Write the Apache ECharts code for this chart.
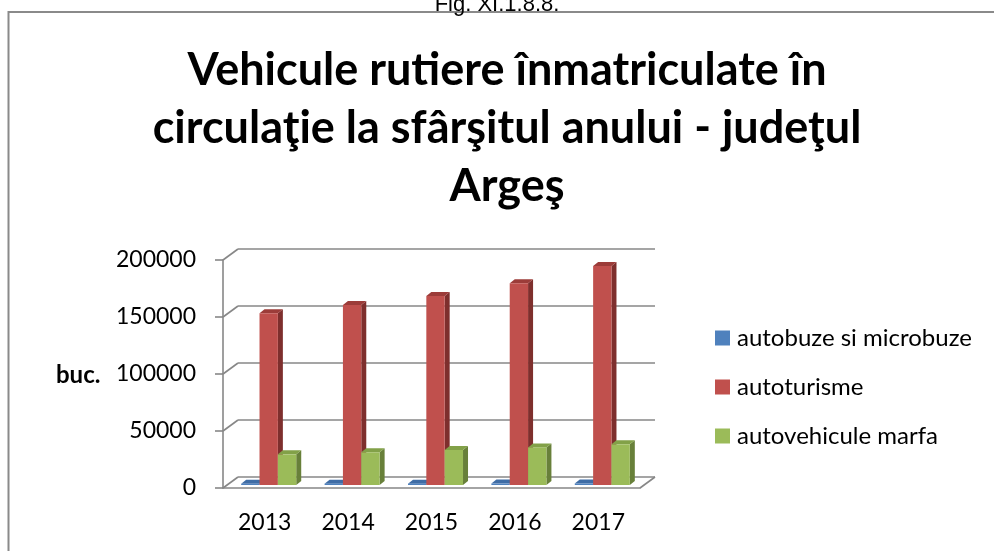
<!DOCTYPE html>
<html>
<head>
<meta charset="utf-8">
<title>Vehicule rutiere - Arges</title>
<script src="https://cdn.jsdelivr.net/npm/echarts@6/dist/echarts.min.js"></script>
<style>
  html, body { margin: 0; padding: 0; background: #fff; }
  #main { width: 994px; height: 551px; }
</style>
</head>
<body>
<div id="main"></div>
<script>
// data
const years = ['2013', '2014', '2015', '2016', '2017'];
const autobuze = [1100, 1150, 1200, 1250, 1300];
const autoturisme = [150600, 157900, 165800, 176900, 192100];
const marfa = [26900, 28700, 30700, 33000, 35700];
const seriesNames = ['autobuze si microbuze', 'autoturisme', 'autovehicule marfa'];
const yTicks = [0, 50000, 100000, 150000, 200000];

// face colours: front, side, top
const palette = [
    ['#4F81BD', '#385D8A', '#3F6DA6'],
    ['#C0504D', '#7E2F2D', '#9C3C39'],
    ['#9BBB59', '#68803A', '#82A148']
];

const gridLine = '#878787';
const depthX = 15, depthY = -11;     // wall depth
const barDX = 5, barDY = -4;         // bar depth
const shiftX = 4, shiftY = -3;       // bar front face behind the front plane

function barRenderer(k) {
    const col = palette[k];
    return function (params, api) {
        const idx = api.value(0);
        const val = api.value(1);
        const band = api.size([1, 0])[0];
        const bw = band * 0.22;
        const base = api.coord([idx, 0]);
        const top = api.coord([idx, val]);
        const x0 = base[0] + (k - 1.5) * bw + shiftX;
        const x1 = x0 + bw;
        const y0 = base[1] + shiftY;
        const y1 = top[1] + shiftY;
        return {
            type: 'group',
            children: [
                {type: 'polygon', shape: {points: [[x1, y0], [x1, y1], [x1 + barDX, y1 + barDY], [x1 + barDX, y0 + barDY]]},
                    style: {fill: col[1]}},
                {type: 'polygon', shape: {points: [[x0, y1], [x1, y1], [x1 + barDX, y1 + barDY], [x0 + barDX, y1 + barDY]]},
                    style: {fill: col[2]}},
                {type: 'rect', shape: {x: x0, y: y1, width: bw, height: y0 - y1},
                    style: {fill: col[0]}}
            ]
        };
    };
}

function frameRenderer(params, api) {
    const v = api.value(1);
    const cs = params.coordSys;
    const y = api.coord([0, v])[1];
    const children = [{
        type: 'line',
        shape: {x1: cs.x, y1: y, x2: cs.x + depthX, y2: y + depthY},
        style: {stroke: gridLine, lineWidth: 1.6}
    }];
    if (v === 0) {
        children.push({
            type: 'line',
            shape: {x1: cs.x + cs.width, y1: y, x2: cs.x + cs.width + depthX, y2: y + depthY},
            style: {stroke: gridLine, lineWidth: 1.6}
        });
    }
    return {type: 'group', children: children};
}

const allValues = [autobuze, autoturisme, marfa];

let option = {
    animation: false,
    backgroundColor: '#fff',
    textStyle: {fontFamily: 'Lato'},
    title: {
        text: 'Vehicule rutiere înmatriculate în\ncirculaţie la sfârşitul anului - judeţul\nArgeş',
        left: 502,
        textAlign: 'center',
        top: 36,
        textStyle: {fontFamily: 'Lato', fontWeight: 'bold', fontSize: 45, lineHeight: 58, color: '#000'}
    },
    legend: {
        orient: 'vertical',
        left: 715,
        top: 326,
        padding: 0,
        itemWidth: 15,
        itemHeight: 15,
        itemGap: 25,
        icon: 'rect',
        data: seriesNames,
        textStyle: {fontFamily: 'Lato', fontSize: 24, lineHeight: 24, color: '#000', padding: [0, 0, 0, 2]}
    },
    grid: [
        {left: 223, top: 260, width: 417, height: 228},
        {left: 238, top: 249, width: 417, height: 228}
    ],
    xAxis: [
        {
            type: 'category', gridIndex: 0, data: years,
            axisLine: {lineStyle: {color: gridLine, width: 1.6}},
            axisTick: {length: 7, lineStyle: {color: gridLine, width: 1.6}},
            axisLabel: {color: '#000', fontSize: 23, margin: 23, fontFamily: 'Lato'}
        },
        {type: 'category', gridIndex: 1, data: years, show: false}
    ],
    yAxis: [
        {
            type: 'value', gridIndex: 0, min: 0, max: 200000, interval: 50000,
            axisLine: {show: true, lineStyle: {color: gridLine, width: 1.6}},
            axisTick: {show: true, length: 8, lineStyle: {color: gridLine, width: 1.6}},
            axisLabel: {color: '#000', fontSize: 23, margin: 27, fontFamily: 'Lato', formatter: v => String(v)},
            splitLine: {show: false}
        },
        {
            type: 'value', gridIndex: 1, min: 0, max: 200000, interval: 50000,
            axisLine: {show: false}, axisTick: {show: false}, axisLabel: {show: false},
            splitLine: {show: true, lineStyle: {color: gridLine, width: 1.6}}
        }
    ],
    graphic: [
        {type: 'polyline', shape: {points: [[8.5, 551], [8.5, 12], [994, 12]]},
            style: {stroke: '#8a8a8a', lineWidth: 2, fill: null}},
        {type: 'text', x: 497, y: 5,
            style: {text: 'Fig. XI.1.8.8.', font: '22px "Liberation Sans"', fill: '#000', align: 'center', verticalAlign: 'middle'}},
        {type: 'text', x: 56, y: 375,
            style: {text: 'buc.', font: 'bold 24px Lato', fill: '#000', align: 'left', verticalAlign: 'middle'}}
    ],
    series: [
        {
            type: 'custom', name: 'frame', xAxisIndex: 0, yAxisIndex: 0,
            renderItem: frameRenderer, clip: false, silent: true,
            data: yTicks.map(v => [0, v])
        }
    ].concat(seriesNames.map((name, k) => ({
        type: 'custom',
        name: name,
        xAxisIndex: 0, yAxisIndex: 0,
        clip: false,
        itemStyle: {color: palette[k][0]},
        renderItem: barRenderer(k),
        encode: {x: 0, y: 1},
        data: years.map((y, i) => [i, allValues[k][i]])
    })))
};

let myChart = echarts.init(document.getElementById('main'));
myChart.setOption(option);
</script>
</body>
</html>
